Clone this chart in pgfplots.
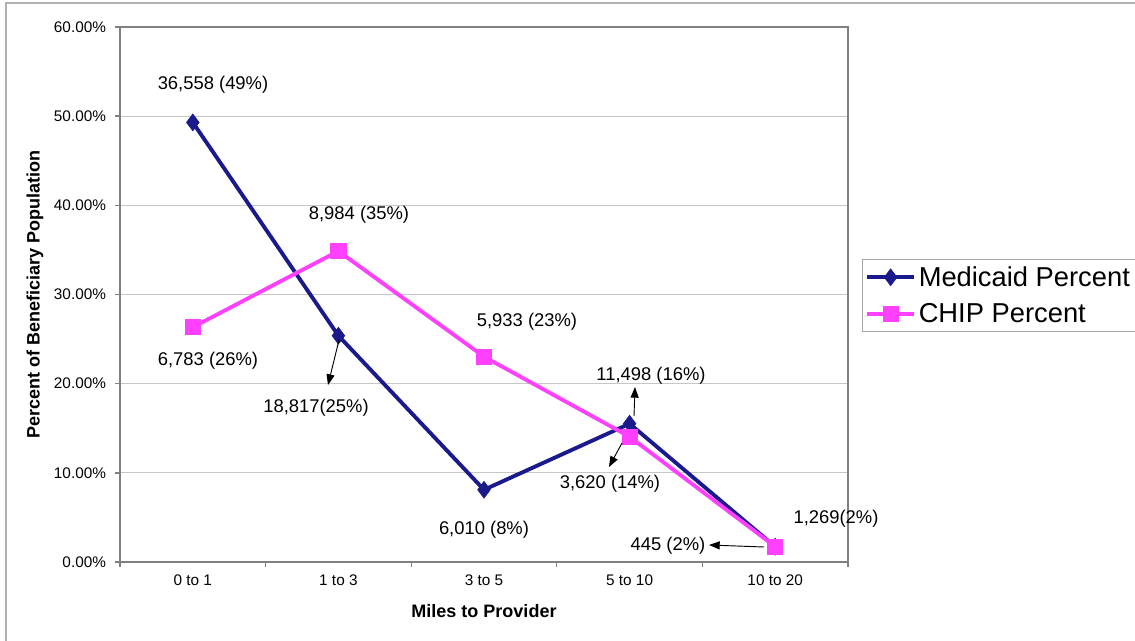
\documentclass[border=0pt]{standalone}
\usepackage{fontspec}
\setmainfont{Liberation Sans}
\usepackage{pgfplots}
\pgfplotsset{compat=1.18}
\usetikzlibrary{arrows.meta}
\definecolor{medi}{RGB}{26,26,140}
\definecolor{chip}{RGB}{255,64,255}
\begin{document}
\begin{tikzpicture}
\useasboundingbox (0,0) rectangle (851.25pt,480pt);
\draw[gray!60, line width=0.8pt] (4.5pt,-10pt) -- (4.5pt,477.75pt) -- (860pt,477.75pt);
\begin{axis}[
  at={(90pt,58.5pt)}, anchor=south west,
  scale only axis, width=546pt, height=401.25pt,
  xmin=-0.5, xmax=4.5, ymin=0, ymax=60,
  xtick={-0.5,0.5,1.5,2.5,3.5,4.5}, xticklabels={},
  extra x ticks={0,1,2,3,4},
  extra x tick labels={0 to 1,1 to 3,3 to 5,5 to 10,10 to 20},
  extra x tick style={major tick length=0pt, grid=none},
  xtick pos=bottom, ytick pos=left,
  ytick={0,10,...,60},
  yticklabel={\pgfmathprintnumber[fixed,fixed zerofill,precision=2]{\tick}\%},
  /pgf/number format/assume math mode=true,
  tick align=outside, major tick length=4pt,
  ymajorgrids, grid style={gray!45, line width=0.8pt},
  axis line style={gray, line width=1pt},
  tick style={gray, line width=1pt},
  ticklabel style={font=\fontsize{11.5}{13}\selectfont},
  xticklabel style={yshift=-6pt},
  yticklabel style={xshift=-3pt},
  xlabel={Miles to Provider}, ylabel={Percent of Beneficiary Population},
  label style={font=\bfseries\fontsize{13.5}{16}\selectfont},
  xlabel style={at={(axis description cs:0.5,-0.0916)}, anchor=center},
  ylabel style={at={(axis description cs:-0.1168,0.5)}, anchor=center, rotate=0},
  legend style={at={(axis description cs:1.0192,0.566)}, anchor=north west,
    draw=gray!70, line width=0.8pt, font=\fontsize{20.5}{24}\selectfont,
    inner xsep=2pt, inner ysep=3pt, row sep=7.5pt,
    nodes={inner sep=2pt}},
  legend cell align=left,
  legend image code/.code={\draw[mark repeat=2,mark phase=2] plot coordinates {(0cm,0cm)(0.62cm,0cm)(1.24cm,0cm)};},
]
\addplot[medi, line width=2.9pt, mark=diamond*, mark size=6.3pt, mark options={line width=0.5pt, fill=medi}]
  coordinates {(0,49.30) (1,25.38) (2,8.10) (3,15.51) (4,1.71)};
\addlegendentry{Medicaid Percent}
\addplot[chip, line width=2.9pt, mark=square*, mark size=5.7pt, mark options={line width=0.5pt, fill=chip}]
  coordinates {(0,26.33) (1,34.87) (2,23.03) (3,14.05) (4,1.73)};
\addlegendentry{CHIP Percent}
\end{axis}
\begin{scope}[x=0.75pt, y=-0.75pt, shift={(0pt,480pt)}, font=\fontsize{13.8}{16}\selectfont]
\node at (213,85) {36,558 (49\%)};
\node at (359,215) {8,984 (35\%)};
\node at (208,361) {6,783 (26\%)};
\node at (316,408) {18,817(25\%)};
\node at (527,322) {5,933 (23\%)};
\node at (651,376) {11,498 (16\%)};
\node at (610,484) {3,620 (14\%)};
\node at (484,530) {6,010 (8\%)};
\node at (836,519) {1,269(2\%)};
\node at (668,546) {445 (2\%)};
\draw[-{Triangle[length=8pt,width=6pt]}, line width=0.7pt] (339,340) -- (328,385);
\draw[-{Triangle[length=8pt,width=6pt]}, line width=0.7pt] (634,416) -- (635,387);
\draw[-{Triangle[length=8pt,width=6pt]}, line width=0.7pt] (622,443) -- (609,467);
\draw[-{Triangle[length=8pt,width=6pt]}, line width=0.7pt] (764,547) -- (709,545);
\end{scope}
\end{tikzpicture}
\end{document}
